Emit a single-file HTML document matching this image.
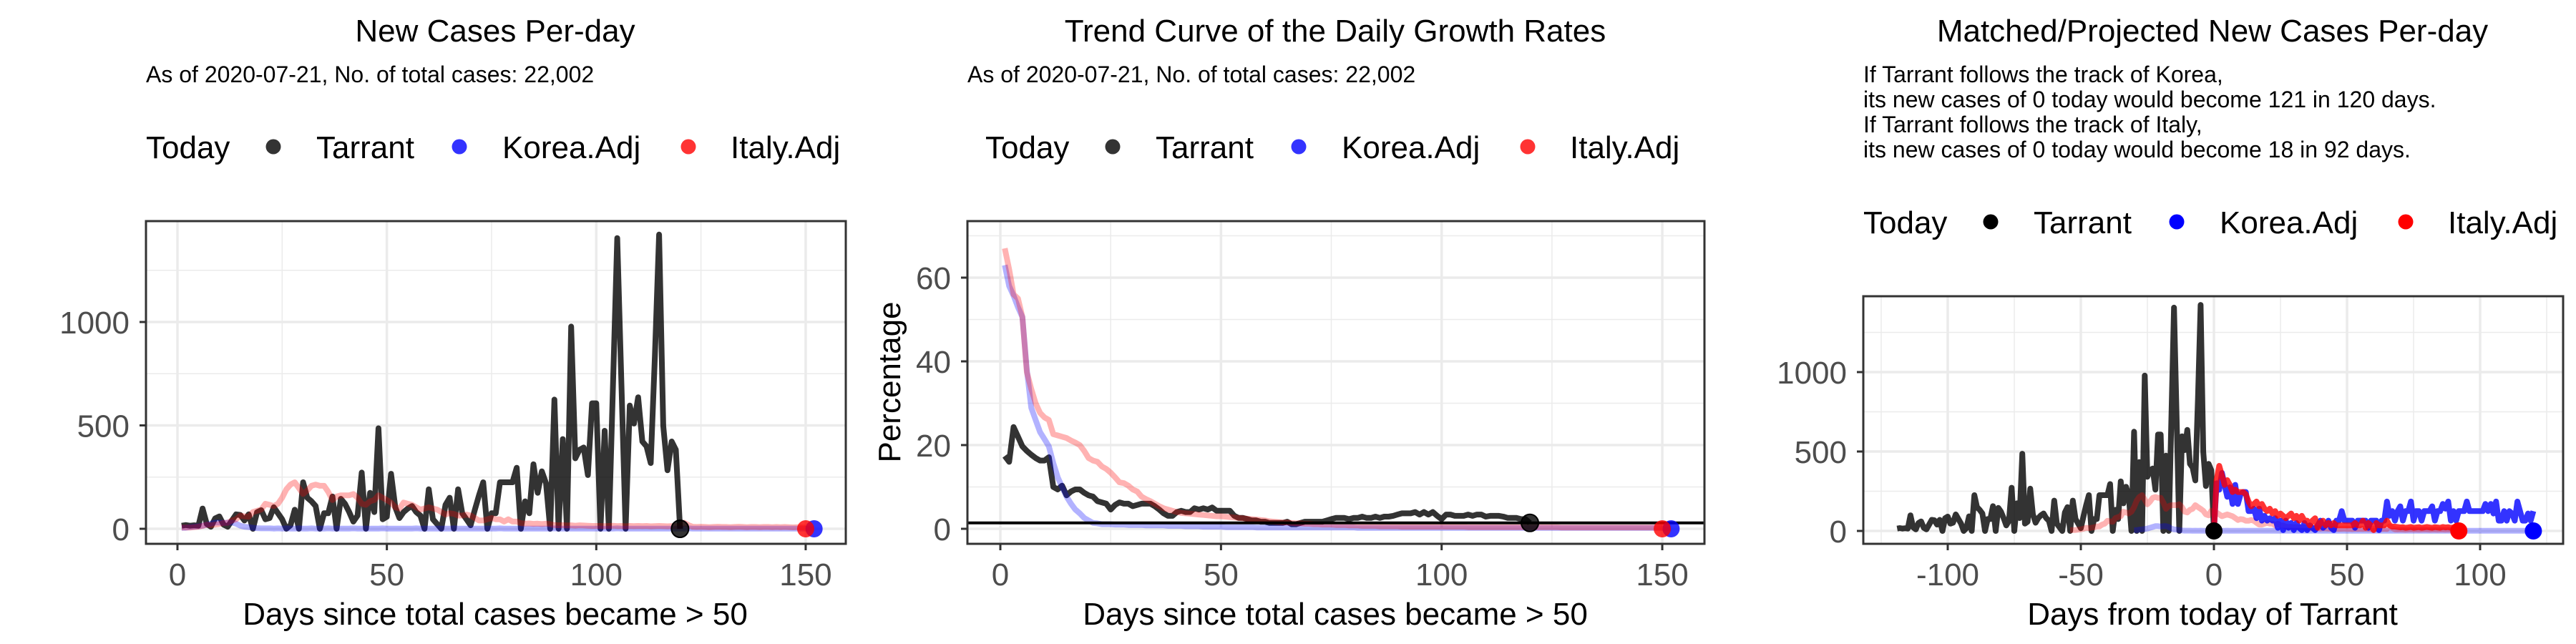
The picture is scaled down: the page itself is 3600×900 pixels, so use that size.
<!DOCTYPE html>
<html><head><meta charset="utf-8"><style>
html,body{margin:0;padding:0;background:#fff;}
svg{display:block;font-family:"Liberation Sans",Arial,sans-serif;}
</style></head><body>
<svg id="root" width="3600" height="900" viewBox="0 0 3600 900" xmlns="http://www.w3.org/2000/svg">
<defs>
<clipPath id="c1"><rect x="204" y="309" width="978" height="451"/></clipPath>
<clipPath id="c2"><rect x="1352" y="309" width="1030" height="451"/></clipPath>
<clipPath id="c3"><rect x="2604" y="414" width="978" height="346"/></clipPath>
</defs>
<g id="p1"></g>
<g id="p2"></g>
<g id="p3"></g>
</svg>
<script>
// ---------- data ----------
const tarrantCases=[15,18,15,17,15,98,23,10,50,60,20,10,40,70,67,40,70,0,80,90,46,52,104,75,46,0,17,92,0,225,150,133,110,0,75,75,156,0,145,121,81,35,64,272,0,174,81,486,46,58,266,104,52,81,98,110,81,64,0,191,46,23,0,116,150,0,191,75,46,17,92,162,225,0,75,75,225,225,225,225,295,0,133,75,312,174,278,220,0,625,0,434,0,978,341,382,393,260,607,607,0,474,0,700,1406,706,0,596,509,636,422,399,318,833,1423,498,283,422,382,0];
const italyCases=[6,6,6,8,10,14,20,17,20,23,28,29,40,46,64,60,58,81,87,93,121,116,110,121,150,191,214,225,197,168,185,208,214,208,208,179,139,156,162,162,162,168,150,121,116,133,139,162,150,139,127,104,98,127,121,116,104,93,98,104,98,93,81,69,75,72,64,64,69,64,52,40,40,46,52,46,46,35,46,35,35,27,25,26,24,25,23,25,22,18,17,18,16,17,15,17,16,15,14,14,14,13,14,15,13,14,12,14,13,14,13,14,12,13,14,13,12,13,14,12,29,18,10,9,10,9,8,9,10,9,9,8,9,10,9,8,9,9,8,9,9,8,9,8,9,8,7,8,7,6];
const koreaCases=[5,5,8,10,12,15,20,25,30,30,28,30,30,25,15,10,8,5,3,2,2,2,1,2,1,2,1,1,2,1,1,2,1,1,1,2,1,1,1,1,1,2,1,1,1,1,1,1,2,1,1,1,1,1,1,1,2,1,1,1,1,1,1,1,1,2,1,1,1,1,1,1,1,1,1,1,2,1,1,1,1,1,1,1,1,1,1,1,1,2,1,1,1,1,1,1,1,1,1,1,1,1,1,1,2,1,1,1,1,1,1,1,1,1,1,1,1,1,1,1,1,2,1,1,1,1,1,1,1,1,1,1,1,1,1,1,1,1,1,1,1,1,1,1,1,1,1,1,1,1,1,1];
const tarrantGrowth=[17.4,16,24.3,22,19.7,18.6,17.7,16.9,16.3,16.3,17.1,10,9.4,10.3,8,8.9,9.4,9.4,8.6,8,7.7,6.6,6.3,6,4.6,5.7,6.3,6,6,5.4,5.7,6,6,6,5.4,4.6,3.7,3.1,3.1,4,4.3,4,4,4.9,4.6,4.9,4.6,5.1,4.3,4.3,4.3,4.3,3.1,2.6,2.6,2.3,2,2,1.7,1.7,1.4,1.4,1.4,1.4,1.7,1.1,1.1,1.4,1.7,1.7,1.7,1.7,1.7,2,2.3,2.6,2.6,2.6,2.3,2.6,2.6,2.9,2.6,2.6,2.9,2.6,2.9,2.9,3.1,3.4,3.7,3.7,3.7,4,3.4,4,3.4,4,3.1,2.3,3.4,3.4,3.1,3.1,3.1,3.4,3.1,3.4,3.4,2.9,3.1,3.1,3.1,2.9,2.6,2.6,2.6,2.3,2.3,1.4];
const koreaGrowth=[63,58,55.7,52.9,50.6,38,28.9,26,23.1,21.4,19.7,15.7,12.3,10,7.7,6,4.6,3.7,2.6,2,1.4,1.3,1.1,1.1,1.1,1,1,1,0.9,0.9,0.9,0.9,0.8,0.8,0.8,0.8,0.8,0.7,0.7,0.7,0.7,0.6,0.6,0.6,0.6,0.5,0.5,0.5,0.5,0.5,0.4,0.4,0.4,0.4,0.4,0.4,0.4,0.3,0.3,0.3,0.3,0.3,0.3,0.3,0.3,0.3,0.3,0.3,0.3,0.3,0.3,0.3,0.3,0.3,0.3,0.3,0.3,0.3,0.3,0.3,0.2,0.2,0.2,0.2,0.2,0.2,0.2,0.2,0.2,0.2,0.2,0.2,0.2,0.2,0.2,0.2,0.2,0.2,0.2,0.2,0.2,0.2,0.2,0.2,0.2,0.2,0.2,0.2,0.2,0.2,0.2,0.2,0.2,0.2,0.2,0.2,0.2,0.2,0.2,0.2,0.2,0.2,0.2,0.2,0.2,0.2,0.2,0.2,0.2,0.2,0.2,0.2,0.2,0.2,0.2,0.2,0.2,0.2,0.2,0.2,0.2,0.2,0.2,0.2,0.2,0.2,0.2,0.2,0.2,0.2,0.2,0.2];
const italyGrowth=[67,62,56,55,50.6,37.4,33.4,30,27.7,26.6,26,22.6,22.3,22,21.7,21.1,20.6,20,18.6,16.9,16.3,16,14.9,14.3,13.4,12.3,11.1,10.9,10.3,9.4,8.9,7.7,7.1,6.6,6,5.4,4.9,4.6,4.3,4,3.8,3.7,3.6,3.5,3.4,3.3,3.2,3.1,3,3,2.9,2.8,2.7,2.6,2.5,2.4,2.3,2.2,2.1,2,1.8,1.7,1.6,1.5,1.5,1.4,1.3,1.3,1.2,1.2,1.1,1.1,1,1,1,0.9,0.9,0.9,0.8,0.8,0.8,0.7,0.7,0.7,0.7,0.6,0.6,0.6,0.6,0.6,0.5,0.5,0.5,0.5,0.5,0.5,0.5,0.5,0.5,0.5,0.5,0.5,0.5,0.5,0.5,0.4,0.4,0.4,0.4,0.4,0.4,0.4,0.4,0.4,0.4,0.4,0.4,0.4,0.4,0.4,0.4,0.4,0.4,0.4,0.4,0.4,0.3,0.3,0.3,0.3,0.3,0.3,0.3,0.3,0.3,0.3,0.3,0.3,0.3,0.3,0.3,0.3,0.3,0.3,0.3,0.3,0.3,0.3,0.3,0.3];
const koreaProj=[0,300,260,365,290,215,275,170,290,170,230,245,245,125,125,140,80,140,65,95,65,80,65,80,20,65,5,65,20,50,5,50,20,5,50,5,35,20,5,35,65,20,35,65,20,5,65,65,125,65,65,65,65,20,65,65,65,65,20,65,65,65,5,65,65,185,95,125,65,125,155,65,125,125,185,65,125,125,65,125,125,125,155,65,125,125,170,140,185,65,125,65,125,125,125,185,125,125,125,125,125,125,170,125,170,110,185,65,65,125,65,125,110,65,185,125,65,65,110,65,125];
const italyProj=[0,320,410,350,290,320,290,245,260,245,245,245,230,185,155,170,185,155,170,140,125,140,110,125,95,110,95,80,95,110,80,95,65,95,65,65,35,65,80,20,50,65,35,50,35,50,35,35,35,35,35,35,35,50,35,35,65,20,50,35,5,50,35,35,35,65,35,27,27,25,22,24,20,22,25,20,22,24,20,22,25,22,20,24,22,20,25,22,24,20,22,25,24];
const xTicks1=[0,50,100,150], yTicks1=[0,500,1000];
const yTicks2=[0,20,40,60];
const xTicks3=[-100,-50,0,50,100], yTicks3=[0,500,1000];
const todayRate=1.4;

const NS="http://www.w3.org/2000/svg";
function mk(parent,tag,attrs,text){const e=document.createElementNS(NS,tag);for(const k in attrs)e.setAttribute(k,attrs[k]);if(text!==undefined)e.textContent=text;parent.appendChild(e);return e;}
function pathFrom(xs,ys,sx,sy){let d="";for(let i=0;i<xs.length;i++){d+=(i?"L":"M")+sx(xs[i]).toFixed(1)+","+sy(ys[i]).toFixed(1);}return d;}
function idx(n,start){return Array.from({length:n},(_,i)=>i+start);}

function frame(g,P){
  // background grid
  P.minorY.forEach(v=>{const l=mk(g,"line",{x1:P.L,x2:P.R,y1:P.sy(v),y2:P.sy(v),stroke:"#ebebeb","stroke-width":1.5});});
  P.minorX.forEach(v=>{const l=mk(g,"line",{y1:P.T,y2:P.B,x1:P.sx(v),x2:P.sx(v),stroke:"#ebebeb","stroke-width":1.5});});
  P.yt.forEach(v=>{const l=mk(g,"line",{x1:P.L,x2:P.R,y1:P.sy(v),y2:P.sy(v),stroke:"#ebebeb","stroke-width":3.5});});
  P.xt.forEach(v=>{const l=mk(g,"line",{y1:P.T,y2:P.B,x1:P.sx(v),x2:P.sx(v),stroke:"#ebebeb","stroke-width":3.5});});
  // ticks & labels
  P.yt.forEach(v=>{
    const t=mk(g,"line",{x1:P.L-9,x2:P.L,y1:P.sy(v),y2:P.sy(v),stroke:"#333","stroke-width":3});
    
    const tx=mk(g,"text",{x:P.L-23,y:P.sy(v)+16,"text-anchor":"end","font-size":44,fill:"#4d4d4d"},String(v));
    
  });
  P.xt.forEach(v=>{
    const t=mk(g,"line",{x1:P.sx(v),x2:P.sx(v),y1:P.B,y2:P.B+9,stroke:"#333","stroke-width":3});
    
    const tx=mk(g,"text",{x:P.sx(v),y:818,"text-anchor":"middle","font-size":44,fill:"#4d4d4d"},String(v).replace("-","-"));
    
  });
}
function border(g,P){const r=mk(g,"rect",{x:P.L,y:P.T,width:P.R-P.L,height:P.B-P.T,fill:"none",stroke:"#333","stroke-width":3});}
function line(g,clip,d,color,w,name){const p=mk(g,"path",{d:d,fill:"none",stroke:color,"stroke-width":w,"stroke-linejoin":"round","clip-path":clip});return p;}
function dot(g,x,y,fill,name,stroke){const c=mk(g,"circle",{cx:x,cy:y,r:12,fill:fill,stroke:stroke||"none","stroke-width":2});}
function legend(g,x0,yc,alpha){
  const items=[["Tarrant","0,0,0",178,238],["Korea.Adj","0,0,255",438,498],["Italy.Adj","255,0,0",758,817]];
  const t=mk(g,"text",{x:x0,y:yc+16,"font-size":44,fill:"#000"},"Today");
  
  items.forEach(it=>{
    const c=mk(g,"circle",{cx:x0+it[2],cy:yc,r:10.5,fill:"rgba("+it[1]+","+alpha+")"});
    
    const l=mk(g,"text",{x:x0+it[3],y:yc+16,"font-size":44,fill:"#000"},it[0]);
    
  });
}
function txt(g,x,y,s,size,anchor,name){const t=mk(g,"text",{x:x,y:y,"font-size":size,"text-anchor":anchor||"start",fill:"#000"},s);return t;}

// ---------- panel 1 ----------
(function(){
  const g=document.getElementById("p1");
  const P={L:204,R:1182,T:309,B:760,sx:v=>248+5.853*v,sy:v=>739-0.289*v,xt:xTicks1,yt:yTicks1,minorX:[25,75,125],minorY:[250,750,1250]};
  txt(g,692,58,"New Cases Per-day",44,"middle","chart-title");
  txt(g,204,115,"As of 2020-07-21, No. of total cases: 22,002",32,"start","chart-subtitle");
  legend(g,204,205,0.8);
  frame(g,P);
  line(g,"url(#c1)",pathFrom(idx(tarrantCases.length,1),tarrantCases,P.sx,P.sy),"rgba(0,0,0,0.8)",8,"tarrant-line");
  line(g,"url(#c1)",pathFrom(idx(koreaCases.length,1),koreaCases,P.sx,P.sy),"rgba(0,0,255,0.3)",8,"korea-adj-line");
  line(g,"url(#c1)",pathFrom(idx(italyCases.length,1),italyCases,P.sx,P.sy),"rgba(255,0,0,0.3)",8,"italy-adj-line");
  dot(g,P.sx(tarrantCases.length),P.sy(tarrantCases[tarrantCases.length-1]),"rgba(0,0,0,0.8)","tarrant-today-point","#000");
  dot(g,P.sx(koreaCases.length),P.sy(0),"rgba(0,0,255,0.8)","korea-today-point");
  dot(g,P.sx(italyCases.length),P.sy(0),"rgba(255,0,0,0.8)","italy-today-point");
  border(g,P);
  txt(g,692,873,"Days since total cases became > 50",44,"middle","x-axis-title");
})();

// ---------- panel 2 ----------
(function(){
  const g=document.getElementById("p2");
  const P={L:1352,R:2382,T:309,B:760,sx:v=>1398+6.167*v,sy:v=>739-5.85*v,xt:xTicks1,yt:yTicks2,minorX:[25,75,125],minorY:[10,30,50,70]};
  txt(g,1866,58,"Trend Curve of the Daily Growth Rates",44,"middle","chart-title");
  txt(g,1352,115,"As of 2020-07-21, No. of total cases: 22,002",32,"start","chart-subtitle");
  legend(g,1377,205,0.8);
  frame(g,P);
  line(g,"url(#c2)",pathFrom(idx(tarrantGrowth.length,1),tarrantGrowth,P.sx,P.sy),"rgba(0,0,0,0.8)",8,"tarrant-growth-line");
  line(g,"url(#c2)",pathFrom(idx(koreaGrowth.length,1),koreaGrowth,P.sx,P.sy),"rgba(0,0,255,0.3)",8,"korea-adj-growth-line");
  line(g,"url(#c2)",pathFrom(idx(italyGrowth.length,1),italyGrowth,P.sx,P.sy),"rgba(255,0,0,0.3)",8,"italy-adj-growth-line");
  const h=mk(g,"line",{x1:P.L,x2:P.R,y1:P.sy(todayRate),y2:P.sy(todayRate),stroke:"#000","stroke-width":4});
  
  dot(g,P.sx(tarrantGrowth.length),P.sy(tarrantGrowth[tarrantGrowth.length-1]),"rgba(0,0,0,0.8)","tarrant-today-point","#000");
  dot(g,P.sx(koreaGrowth.length),P.sy(0),"rgba(0,0,255,0.8)","korea-today-point");
  dot(g,P.sx(italyGrowth.length),P.sy(0),"rgba(255,0,0,0.8)","italy-today-point");
  border(g,P);
  txt(g,1866,873,"Days since total cases became > 50",44,"middle","x-axis-title");
  const yl=txt(g,0,0,"Percentage",44,"middle","y-axis-title");
  yl.setAttribute("transform","translate(1258,534) rotate(-90)");
})();

// ---------- panel 3 ----------
(function(){
  const g=document.getElementById("p3");
  const P={L:2604,R:3582,T:414,B:760,sx:v=>3094+3.72*v,sy:v=>742-0.222*v,xt:xTicks3,yt:yTicks3,minorX:[-125,-75,-25,25,75,125],minorY:[250,750,1250]};
  txt(g,3092,58,"Matched/Projected New Cases Per-day",44,"middle","chart-title");
  ["If Tarrant follows the track of Korea,","its new cases of 0 today would become 121 in 120 days.","If Tarrant follows the track of Italy,","its new cases of 0 today would become 18 in 92 days."].forEach((s,i)=>txt(g,2604,115+i*35,s,32,"start","projection-note-line"));
  legend(g,2604,310,1);
  frame(g,P);
  const n=tarrantCases.length;
  line(g,"url(#c3)",pathFrom(idx(n,1-n),tarrantCases,P.sx,P.sy),"rgba(0,0,0,0.8)",8,"tarrant-matched-line");
  line(g,"url(#c3)",pathFrom(idx(koreaCases.length,-30),koreaCases,P.sx,P.sy),"rgba(0,0,255,0.3)",8,"korea-adj-matched-line");
  line(g,"url(#c3)",pathFrom(idx(italyCases.length,-54),italyCases,P.sx,P.sy),"rgba(255,0,0,0.3)",8,"italy-adj-matched-line");
  line(g,"url(#c3)",pathFrom(idx(koreaProj.length,0),koreaProj,P.sx,P.sy),"rgba(0,0,255,0.8)",8,"korea-projection-line");
  line(g,"url(#c3)",pathFrom(idx(italyProj.length,0),italyProj,P.sx,P.sy),"rgba(255,0,0,0.8)",8,"italy-projection-line");
  dot(g,P.sx(0),P.sy(0),"#000","tarrant-today-point");
  dot(g,P.sx(italyProj.length-1),P.sy(0),"#f00","italy-projection-end-point");
  dot(g,P.sx(koreaProj.length-1),P.sy(0),"#00f","korea-projection-end-point");
  border(g,P);
  txt(g,3092,873,"Days from today of Tarrant",44,"middle","x-axis-title");
})();
</script>
</body></html>
